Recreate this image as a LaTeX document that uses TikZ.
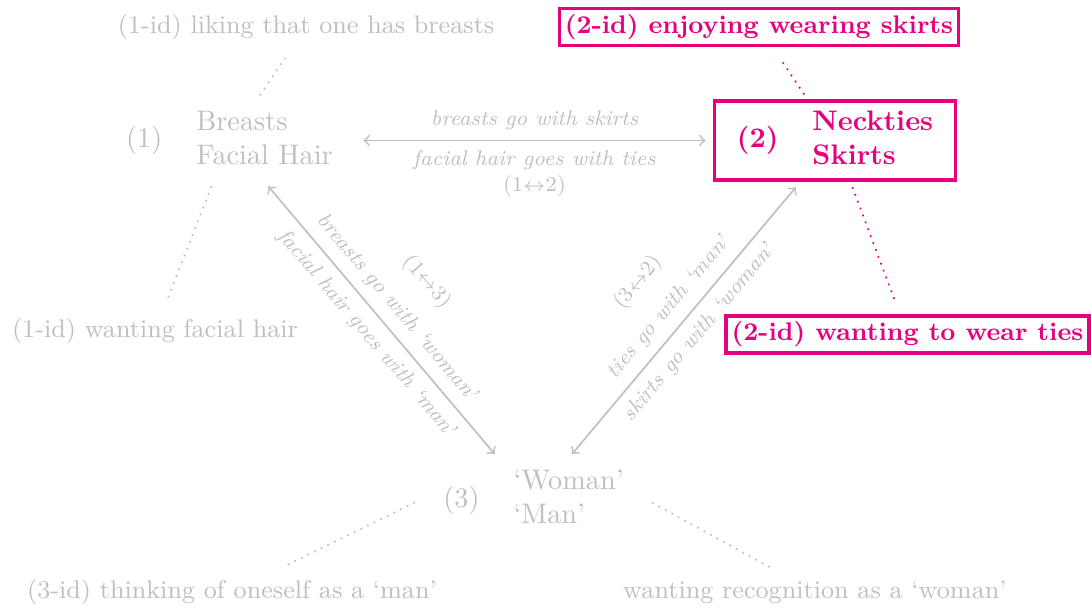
\documentclass[tikz,border=0pt]{standalone}
\usepackage{amsmath}
\usepackage{tikz}
\usetikzlibrary{positioning}
\definecolor{faded}{RGB}{191,191,191}
\definecolor{idpink}{RGB}{230,0,126}

\begin{document}
\begin{tikzpicture}[auto, semithick,
                    main node/.style={inner sep=2pt,text=faded},
                    live node/.style={main node,draw=idpink,line width=1.2pt,text=idpink,font=\bfseries},
                    id node/.style={inner sep=2pt,text=faded,font=\small},
                    live id/.style={id node,draw=idpink,line width=1.2pt,text=idpink,font=\small\bfseries},
                    link/.style={<->,faded,shorten <=2.5pt,shorten >=2.5pt},
                    id line/.style={dotted,faded,shorten <=2pt,shorten >=5pt}]

  \useasboundingbox (0,0) rectangle (13.552,-7.565);

  \node[main node] (1) at (2.851,-1.745) {\begin{tabular}{ll}(1) & \begin{tabular}{@{}l@{}}Breasts\\Facial Hair\end{tabular}\end{tabular}};
  \node[live node] (2) at (10.372,-1.745) {\begin{tabular}{ll}(2) & \begin{tabular}{@{}l@{}}Neckties\\Skirts\end{tabular}\end{tabular}};
  \node[main node] (3) at (6.627,-6.211) {\begin{tabular}{ll}(3) & \begin{tabular}{@{}l@{}}`Woman'\\`Man'\end{tabular}\end{tabular}};

  % what each pole is lived as
  \node[id node] (1a) at (3.801,-0.335) {(1-id) liking that one has breasts};
  \node[id node] (1b) at (1.925,-4.111) {(1-id) wanting facial hair};
  \node[live id] (2a) at (9.428,-0.335) {(2-id) enjoying wearing skirts};
  \node[live id] (2b) at (11.272,-4.155) {(2-id) wanting to wear ties};
  \node[id node] (3a) at (2.882,-7.353) {(3-id) thinking of oneself as a `man'};
  \node[id node] (3b) at (10.123,-7.353) {wanting recognition as a `woman'};

  \path[every node/.style={font=\fontsize{7.5pt}{9pt}\selectfont\itshape,text=faded}]
    (1) edge [link] node {breasts go with skirts}
                    node [below,align=center] {facial hair goes with ties\\\upshape(1$\leftrightarrow$2)} (2)
    (1) edge [link] node [sloped,above,align=center] {\upshape(1$\leftrightarrow$3)\\[5pt]breasts go with `woman'}
                    node [sloped,below] {facial hair goes with `man'} (3)
    (3) edge [link] node [sloped,above,align=center] {\upshape(3$\leftrightarrow$2)\\[5pt]ties go with `man'}
                    node [sloped,below] {skirts go with `woman'} (2)
;

  \draw[id line] (1) -- (1a);
  \draw[id line] (1) -- (1b);
  \draw[id line,idpink] (2) -- (2a);
  \draw[id line,idpink] (2) -- (2b);
  \draw[id line] (3.west) -- (3a);
  \draw[id line] (3.east) -- (3b);
\end{tikzpicture}
\end{document}
